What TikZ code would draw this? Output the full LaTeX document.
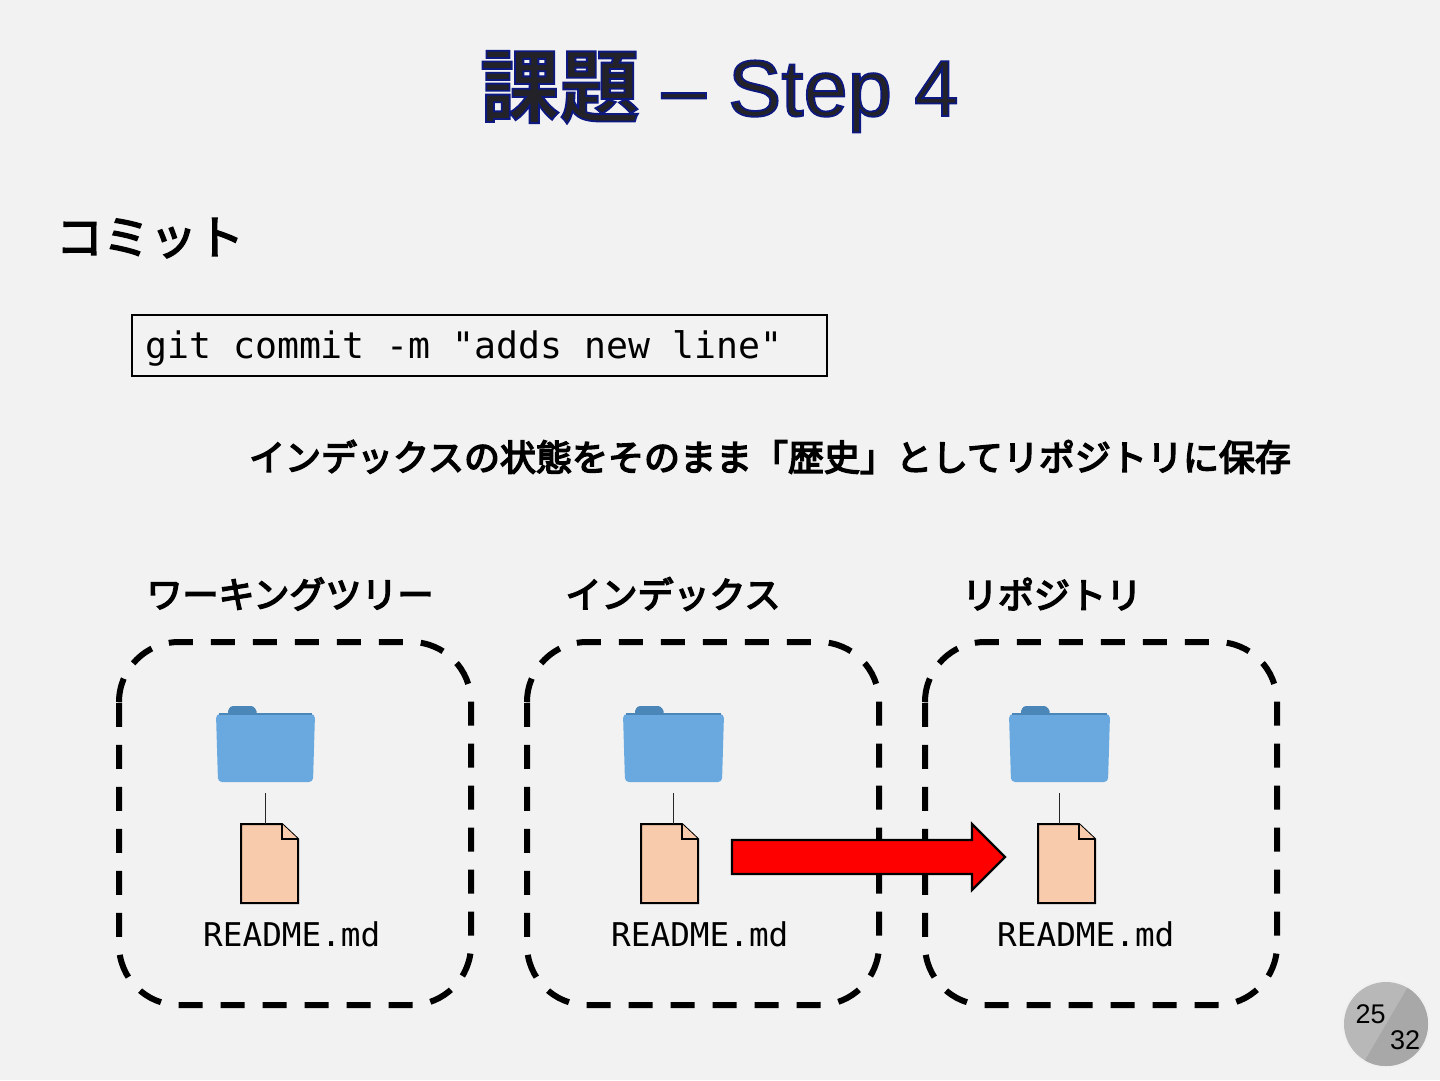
\documentclass[tikz,border=0pt]{standalone}
\usepackage{fontspec}
\setmainfont{Liberation Sans}
\newfontfamily\cjk{Noto Sans CJK JP}
\newfontfamily\cjkb{Noto Sans CJK JP Bold}
\newfontfamily\mono{DejaVu Sans Mono}
\definecolor{bgc}{HTML}{F2F2F2}
\definecolor{titlec}{HTML}{222228}
\definecolor{folderc}{HTML}{69A9E0}
\definecolor{tabc}{HTML}{4A86B8}
\definecolor{filec}{HTML}{F8CBAD}
\newcommand{\synbold}[1]{\special{pdf:code 2 Tr 1.5 w 0 0 0 RG}#1\special{pdf:code 0 Tr 0 w}}
\tikzset{
  zonebox/.style={draw=black,line width=6pt,dash pattern=on 24pt off 18pt},
  docshape/.style={draw=black,line width=2pt,fill=filec,line join=miter},
  linkline/.style={draw=black!85,line width=1pt},
  jplabel/.style={anchor=center,inner sep=0pt,font=\cjk\fontsize{36}{40}\selectfont},
  filelabel/.style={anchor=base west,inner sep=0pt,font=\mono\fontsize{32.7}{36}\selectfont},
  badgenum/.style={anchor=center,inner sep=0pt,font=\fontsize{27}{30}\selectfont},
}
\newcommand{\zoneat}[1]{% left x; drawn clockwise from the top of the left side
  \draw[zonebox] (#1,702) .. controls (#1,668.9) and (#1+26.9,642) .. (#1+60,642) -- (#1+292,642)
    .. controls (#1+325.1,642) and (#1+352,668.9) .. (#1+352,702) -- (#1+352,945)
    .. controls (#1+352,978.1) and (#1+325.1,1005) .. (#1+292,1005) -- (#1+60,1005)
    .. controls (#1+26.9,1005) and (#1,978.1) .. (#1,945) -- (#1,702);
}
\newcommand{\folderat}[3]{% x, width, name
  \fill[tabc,rounded corners=3pt] (#1+11,714) -- (#1+14,706) -- (#1+38,706) -- (#1+42,714) -- cycle;
  \fill[folderc,rounded corners=4pt] (#1,714) -- (#1+#2,714) -- (#1+#2-2,782) -- (#1+2,782) -- cycle;
  \fill[tabc] (#1+3,712.5) rectangle (#1+#2-3,715);
  \coordinate (#3) at (#1+#2/2,793);
}
\newcommand{\docat}[1]{% x
  \draw[docshape] (#1,824) -- (#1+41,824) -- (#1+57,839) -- (#1+57,903) -- (#1,903) -- cycle;
  \draw[docshape] (#1+41,824) -- (#1+41,839) -- (#1+57,839);
}
\begin{document}
\begin{tikzpicture}[x=1pt,y=-1pt]
\useasboundingbox (0,0) rectangle (1440,1080);
\fill[bgc] (0,0) rectangle (1440,1080);
% title
\node (title) [anchor=base west,inner sep=0pt,text=titlec,font=\fontsize{79.7}{90}\selectfont] at (480,116)
  {\special{pdf:code 2 Tr 1.8 w 0.05 0.1 0.5 RG}{\cjkb 課題} – Step 4\special{pdf:code 0 Tr 0 w}};
\node (head) [anchor=center,inner sep=0pt,font=\cjk\fontsize{47}{50}\selectfont] at (150,238) {\synbold{コミット}};
\node (cmd) [draw=black,line width=1.5pt,minimum width=695pt,minimum height=61pt,inner sep=0pt] at (479.5,345.5) {};
\node (cmdt) [anchor=base west,inner sep=0pt,font=\mono\fontsize{36.5}{40}\selectfont] at (145,358) {git commit -m "adds new line"};
\node (sub) [jplabel] at (770,457) {\synbold{インデックスの状態をそのまま「歴史」としてリポジトリに保存}};
\node (l1) [jplabel] at (290,594) {\synbold{ワーキングツリー}};
\node (l2) [jplabel] at (673,594) {\synbold{インデックス}};
\node (l3) [jplabel] at (1052,594) {\synbold{リポジトリ}};
% zones
\zoneat{119}
\zoneat{527}
\zoneat{925}
% folders
\folderat{216}{99}{fa}
\folderat{623}{101}{fb}
\folderat{1009}{101}{fc}
% files
\docat{241}
\docat{641}
\docat{1038}
\coordinate (ta) at (fa |- 0,824);
\coordinate (tb) at (fb |- 0,824);
\coordinate (tc) at (fc |- 0,824);
\draw[linkline] (fa) -- (ta);
\draw[linkline] (fb) -- (tb);
\draw[linkline] (fc) -- (tc);
\node (ra) [filelabel] at (203,946) {README.md};
\node (rb) [filelabel] at (611,946) {README.md};
\node (rc) [filelabel] at (997,946) {README.md};
% arrow
\draw[draw=black,line width=2.2pt,fill=red,line join=miter]
  (732,840) -- (972,840) -- (972,824) -- (1005,857) -- (972,890) -- (972,874) -- (732,874) -- cycle;
% badge
\fill[black!6] (1386,1024) circle (44);
\begin{scope}
\clip (1386,1024) circle (42);
\fill[black!28] (1330,970) rectangle (1440,1080);
\fill[black!34] (1409,985) -- (1364,1062) -- (1440,1080) -- (1440,985) -- cycle;
\end{scope}
\node (cur) [badgenum] at (1370.5,1014) {25};
\node (tot) [badgenum] at (1405,1040) {32};
\end{tikzpicture}
\end{document}
